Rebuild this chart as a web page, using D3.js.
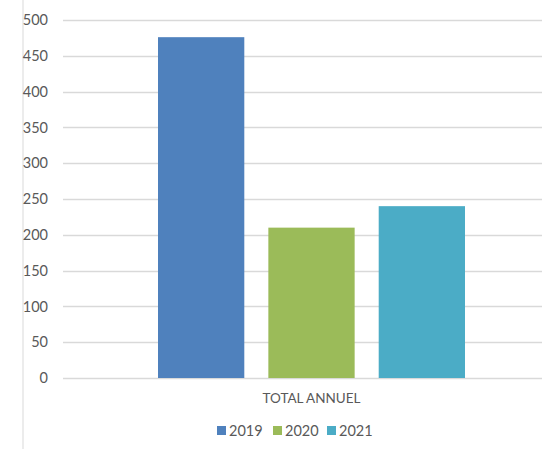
<!DOCTYPE html>
<html>
<head>
<meta charset="utf-8">
<script src="https://cdn.jsdelivr.net/npm/d3@7"></script>
<style>
    body { margin: 0; background: #fff; }
    svg { display: block; font-family: Lato, "Liberation Sans", Arial, sans-serif; }
</style>
</head>
<body>
<div id="chart"></div>
<script>
// data
var categories = ["TOTAL ANNUEL"];
var years = ["2019", "2020", "2021"];
var values2019 = [476];
var values2020 = [210];
var values2021 = [240];
var yTicks = [0, 50, 100, 150, 200, 250, 300, 350, 400, 450, 500];
var colors = ["#4F81BD", "#9BBB59", "#4BACC6"];

var width = 542;
var height = 449;

var svg = d3.select("#chart").append("svg")
    .attr("width", width)
    .attr("height", height);

// left border line of the frame
svg.append("line")
    .attr("x1", 23).attr("x2", 23)
    .attr("y1", 0).attr("y2", height)
    .attr("stroke", "#D9D9D9")
    .attr("stroke-width", 1);

var yScale = d3.scaleLinear()
    .domain([0, 500])
    .range([378, 20]);

var x0 = d3.scaleBand()
    .domain(categories)
    .range([158, 465])
    .padding(0);

var x1 = d3.scaleBand()
    .domain(years)
    .range([0, x0.bandwidth()])
    .paddingInner(0.218)
    .paddingOuter(0);

// gridlines
svg.append("g")
    .selectAll("line")
    .data(yTicks)
    .enter().append("line")
    .attr("x1", 63)
    .attr("x2", width)
    .attr("y1", function (d) { return Math.round(yScale(d)) + 0.5; })
    .attr("y2", function (d) { return Math.round(yScale(d)) + 0.5; })
    .attr("stroke", "#D9D9D9")
    .attr("stroke-width", 1.3);

// y axis labels
var yAxis = d3.axisLeft(yScale).tickValues(yTicks).tickSize(0).tickPadding(0);
var yg = svg.append("g")
    .attr("transform", "translate(48,0)")
    .call(yAxis);
yg.select(".domain").remove();
yg.selectAll("text")
    .attr("fill", "#595959")
    .style("font-family", "Lato, 'Liberation Sans', sans-serif")
    .style("font-size", "14.5px");

// bars
var series = [values2019, values2020, values2021];
var rows = [];
categories.forEach(function (c, i) {
    years.forEach(function (y, j) {
        rows.push({ cat: c, year: y, value: series[j][i], color: colors[j] });
    });
});

svg.append("g")
    .selectAll("rect")
    .data(rows)
    .enter().append("rect")
    .attr("x", function (d) { return x0(d.cat) + x1(d.year); })
    .attr("y", function (d) { return yScale(d.value); })
    .attr("width", x1.bandwidth())
    .attr("height", function (d) { return yScale(0) - yScale(d.value); })
    .attr("fill", function (d) { return d.color; });

// category label
svg.append("g")
    .selectAll("text")
    .data(categories)
    .enter().append("text")
    .attr("x", function (d) { return x0(d) + x0.bandwidth() / 2; })
    .attr("y", 403)
    .attr("text-anchor", "middle")
    .attr("fill", "#595959")
    .style("font-size", "13.5px")
    .text(function (d) { return d; });

// legend
var legendX = [217, 273, 327];
var legend = svg.append("g")
    .selectAll("g")
    .data(years)
    .enter().append("g")
    .attr("transform", function (d, i) { return "translate(" + legendX[i] + ",426)"; });

legend.append("rect")
    .attr("width", 9)
    .attr("height", 9)
    .attr("fill", function (d, i) { return colors[i]; });

legend.append("text")
    .attr("x", 12)
    .attr("y", 9.5)
    .attr("fill", "#595959")
    .style("font-size", "14.5px")
    .text(function (d) { return d; });
</script>
</body>
</html>
